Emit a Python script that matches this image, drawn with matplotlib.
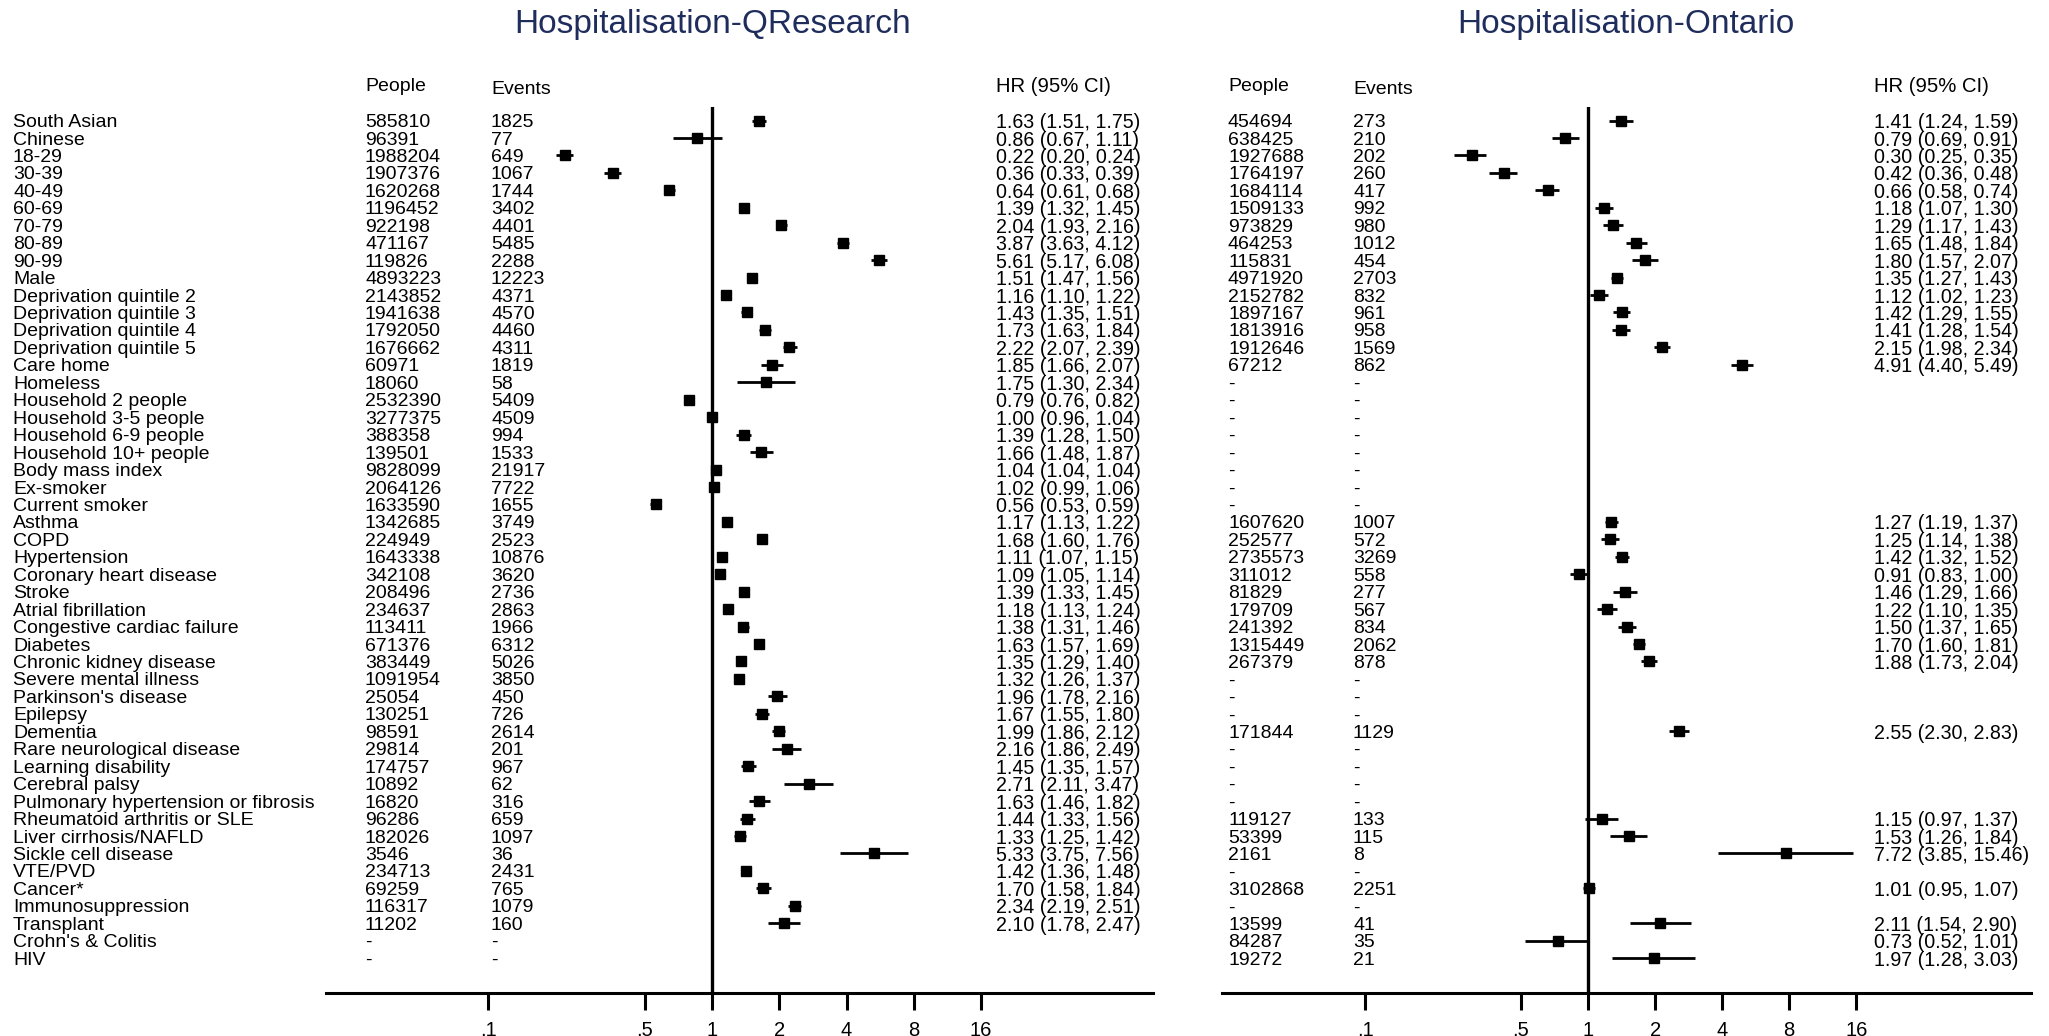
import numpy as np
import matplotlib.pyplot as plt
import matplotlib.transforms as mtransforms
from matplotlib.ticker import NullLocator

plt.rcParams['font.family'] = ['Liberation Sans', 'DejaVu Sans']

labels = [
    "South Asian", "Chinese", "18-29", "30-39", "40-49", "60-69", "70-79",
    "80-89", "90-99", "Male", "Deprivation quintile 2", "Deprivation quintile 3",
    "Deprivation quintile 4", "Deprivation quintile 5", "Care home", "Homeless",
    "Household 2 people", "Household 3-5 people", "Household 6-9 people",
    "Household 10+ people", "Body mass index", "Ex-smoker", "Current smoker",
    "Asthma", "COPD", "Hypertension", "Coronary heart disease", "Stroke",
    "Atrial fibrillation", "Congestive cardiac failure", "Diabetes",
    "Chronic kidney disease", "Severe mental illness", "Parkinson's disease",
    "Epilepsy", "Dementia", "Rare neurological disease", "Learning disability",
    "Cerebral palsy", "Pulmonary hypertension or fibrosis",
    "Rheumatoid arthritis or SLE", "Liver cirrhosis/NAFLD", "Sickle cell disease",
    "VTE/PVD", "Cancer*", "Immunosuppression", "Transplant", "Crohn's & Colitis", "HIV",
]

# QResearch cohort
qr_people = [585810, 96391, 1988204, 1907376, 1620268, 1196452, 922198, 471167, 119826,
             4893223, 2143852, 1941638, 1792050, 1676662, 60971, 18060, 2532390, 3277375,
             388358, 139501, 9828099, 2064126, 1633590, 1342685, 224949, 1643338, 342108,
             208496, 234637, 113411, 671376, 383449, 1091954, 25054, 130251, 98591, 29814,
             174757, 10892, 16820, 96286, 182026, 3546, 234713, 69259, 116317, 11202,
             None, None]
qr_events = [1825, 77, 649, 1067, 1744, 3402, 4401, 5485, 2288, 12223, 4371, 4570, 4460,
             4311, 1819, 58, 5409, 4509, 994, 1533, 21917, 7722, 1655, 3749, 2523, 10876,
             3620, 2736, 2863, 1966, 6312, 5026, 3850, 450, 726, 2614, 201, 967, 62, 316,
             659, 1097, 36, 2431, 765, 1079, 160, None, None]
qr_hr = [1.63, 0.86, 0.22, 0.36, 0.64, 1.39, 2.04, 3.87, 5.61, 1.51, 1.16, 1.43, 1.73,
         2.22, 1.85, 1.75, 0.79, 1.00, 1.39, 1.66, 1.04, 1.02, 0.56, 1.17, 1.68, 1.11,
         1.09, 1.39, 1.18, 1.38, 1.63, 1.35, 1.32, 1.96, 1.67, 1.99, 2.16, 1.45, 2.71,
         1.63, 1.44, 1.33, 5.33, 1.42, 1.70, 2.34, 2.10, None, None]
qr_lo = [1.51, 0.67, 0.20, 0.33, 0.61, 1.32, 1.93, 3.63, 5.17, 1.47, 1.10, 1.35, 1.63,
         2.07, 1.66, 1.30, 0.76, 0.96, 1.28, 1.48, 1.04, 0.99, 0.53, 1.13, 1.60, 1.07,
         1.05, 1.33, 1.13, 1.31, 1.57, 1.29, 1.26, 1.78, 1.55, 1.86, 1.86, 1.35, 2.11,
         1.46, 1.33, 1.25, 3.75, 1.36, 1.58, 2.19, 1.78, None, None]
qr_hi = [1.75, 1.11, 0.24, 0.39, 0.68, 1.45, 2.16, 4.12, 6.08, 1.56, 1.22, 1.51, 1.84,
         2.39, 2.07, 2.34, 0.82, 1.04, 1.50, 1.87, 1.04, 1.06, 0.59, 1.22, 1.76, 1.15,
         1.14, 1.45, 1.24, 1.46, 1.69, 1.40, 1.37, 2.16, 1.80, 2.12, 2.49, 1.57, 3.47,
         1.82, 1.56, 1.42, 7.56, 1.48, 1.84, 2.51, 2.47, None, None]

# Ontario cohort (None = not available)
_ = None
on_people = [454694, 638425, 1927688, 1764197, 1684114, 1509133, 973829, 464253, 115831,
             4971920, 2152782, 1897167, 1813916, 1912646, 67212, _, _, _, _, _, _, _, _,
             1607620, 252577, 2735573, 311012, 81829, 179709, 241392, 1315449, 267379,
             _, _, _, 171844, _, _, _, _, 119127, 53399, 2161, _, 3102868, _, 13599,
             84287, 19272]
on_events = [273, 210, 202, 260, 417, 992, 980, 1012, 454, 2703, 832, 961, 958, 1569, 862,
             _, _, _, _, _, _, _, _, 1007, 572, 3269, 558, 277, 567, 834, 2062, 878,
             _, _, _, 1129, _, _, _, _, 133, 115, 8, _, 2251, _, 41, 35, 21]
on_hr = [1.41, 0.79, 0.30, 0.42, 0.66, 1.18, 1.29, 1.65, 1.80, 1.35, 1.12, 1.42, 1.41,
         2.15, 4.91, _, _, _, _, _, _, _, _, 1.27, 1.25, 1.42, 0.91, 1.46, 1.22, 1.50,
         1.70, 1.88, _, _, _, 2.55, _, _, _, _, 1.15, 1.53, 7.72, _, 1.01, _, 2.11,
         0.73, 1.97]
on_lo = [1.24, 0.69, 0.25, 0.36, 0.58, 1.07, 1.17, 1.48, 1.57, 1.27, 1.02, 1.29, 1.28,
         1.98, 4.40, _, _, _, _, _, _, _, _, 1.19, 1.14, 1.32, 0.83, 1.29, 1.10, 1.37,
         1.60, 1.73, _, _, _, 2.30, _, _, _, _, 0.97, 1.26, 3.85, _, 0.95, _, 1.54,
         0.52, 1.28]
on_hi = [1.59, 0.91, 0.35, 0.48, 0.74, 1.30, 1.43, 1.84, 2.07, 1.43, 1.23, 1.55, 1.54,
         2.34, 5.49, _, _, _, _, _, _, _, _, 1.37, 1.38, 1.52, 1.00, 1.66, 1.35, 1.65,
         1.81, 2.04, _, _, _, 2.83, _, _, _, _, 1.37, 1.84, 15.46, _, 1.07, _, 2.90,
         1.01, 3.03]

tick_vals = [0.1, 0.5, 1, 2, 4, 8, 16]
tick_text = [".1", ".5", "1", "2", "4", "8", "16"]

W, H = 2049, 1036
fig = plt.figure(figsize=(W / 100, H / 100), dpi=100)
fig.patch.set_facecolor("white")

AX_TOP, AX_BOT = 107, 993
ROW0, ROWSTEP = 120.5, 17.45
FS = 14
TXT_DY = 0.12   # nudge text down a little so it sits on the row centre


def fmt_n(v):
    return "-" if v is None else str(v)


def panel(px0, px1, umin, umax, title, title_x, col_people, col_events, col_hr,
          people, events, hr, lo, hi, show_labels, hr_fs):
    ax = fig.add_axes([px0 / W, 1 - AX_BOT / H, (px1 - px0) / W, (AX_BOT - AX_TOP) / H])
    ax.set_xscale("log", base=2)
    ax.set_xlim(2 ** umin, 2 ** umax)
    ax.set_ylim((AX_BOT - ROW0) / ROWSTEP, (AX_TOP - ROW0) / ROWSTEP)
    for s in ("top", "left", "right"):
        ax.spines[s].set_visible(False)
    ax.spines["bottom"].set_linewidth(2.2)
    ax.set_yticks([])
    ax.set_xticks(tick_vals)
    ax.set_xticklabels(tick_text)
    ax.xaxis.set_minor_locator(NullLocator())
    ax.tick_params(axis="x", length=12, width=2.2, labelsize=14.5, pad=8)
    ax.set_facecolor("none")

    ax.axvline(1, color="black", lw=2.4)

    rows = np.arange(len(labels))
    for i in rows:
        if hr[i] is None:
            continue
        ax.hlines(i, lo[i], hi[i], color="black", lw=2)
        ax.plot(hr[i], i, "s", color="black", ms=7)

    tr = mtransforms.blended_transform_factory(fig.transFigure, ax.transData)
    hy = (86 - ROW0) / ROWSTEP
    ey = (89 - ROW0) / ROWSTEP
    ax.text(col_people / W, hy, "People", transform=tr, fontsize=FS, va="center", ha="left")
    ax.text(col_events / W, ey, "Events", transform=tr, fontsize=FS, va="center", ha="left")
    ax.text(col_hr / W, hy, "HR (95% CI)", transform=tr, fontsize=14.6, va="center", ha="left")

    for i in rows:
        y = i + TXT_DY
        if show_labels:
            ax.text(13 / W, y, labels[i], transform=tr, fontsize=FS, va="center", ha="left")
        ax.text(col_people / W, y, fmt_n(people[i]), transform=tr, fontsize=FS,
                va="center", ha="left")
        ax.text(col_events / W, y, fmt_n(events[i]), transform=tr, fontsize=FS,
                va="center", ha="left")
        if hr[i] is not None:
            ax.text(col_hr / W, y, f"{hr[i]:.2f} ({lo[i]:.2f}, {hi[i]:.2f})",
                    transform=tr, fontsize=hr_fs, va="center", ha="left")

    fig.text(title_x / W, 1 - 24 / H, title, fontsize=24, color="#1f2d5c",
             ha="center", va="center")
    return ax


panel(326, 1153, -5.735, 6.553, "Hospitalisation-QResearch", 713,
      365, 491, 996, qr_people, qr_events, qr_hr, qr_lo, qr_hi, True, 14.1)
panel(1222, 2031, -5.458, 6.606, "Hospitalisation-Ontario", 1626,
      1228, 1353, 1874, on_people, on_events, on_hr, on_lo, on_hi, False, 14.1)

fig.savefig("out.png", dpi=100)
